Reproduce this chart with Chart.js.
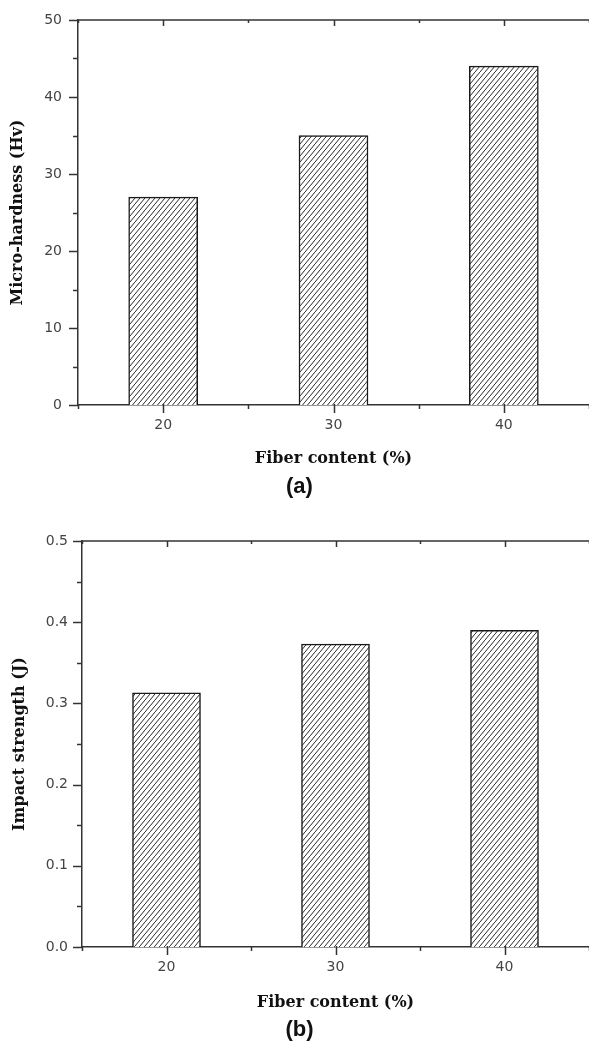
<!DOCTYPE html>
<html>
<head>
<meta charset="utf-8">
<script src="https://cdn.jsdelivr.net/npm/chart.js@4.4.1/dist/chart.umd.min.js"></script>
<style>
  html, body { margin: 0; padding: 0; background: #fff; }
  body { width: 589px; height: 1044px; position: relative; overflow: hidden; }
  canvas { position: absolute; left: 0; }
  #chart-a { top: 0; }
  #chart-b { top: 520px; }
  .panel { position: absolute; width: 589px; left: 5px; text-align: center;
           font: bold 22px "Liberation Sans", Arial, sans-serif; color: #111; }
</style>
</head>
<body>
<canvas id="chart-a" width="589" height="480"></canvas>
<canvas id="chart-b" width="589" height="500"></canvas>
<div class="panel" style="top:473px">(a)</div>
<div class="panel" style="top:1016px">(b)</div>
<script>
// data
const fiberContent = [20, 30, 40];
const microHardness = [27, 35, 44];
const impactStrength = [0.313, 0.373, 0.39];
const xLabelTicks = [20, 30, 40];

// diagonal hatch used for the bars
const makeHatch = () => {
  const w = 5, h = 6;
  const c = document.createElement('canvas');
  c.width = w; c.height = h;
  const g = c.getContext('2d');
  g.fillStyle = '#fff';
  g.fillRect(0, 0, w, h);
  g.strokeStyle = '#2a2a2a';
  g.lineWidth = 1;
  [-w, 0, w].forEach(dx => {
    g.beginPath();
    g.moveTo(dx, h + (dx / w) * -h);
    g.lineTo(dx + w, (dx / w) * -h);
    g.stroke();
  });
  return g.createPattern(c, 'repeat');
};

// axis frame: top line and major/minor tick marks
const frameTicks = isMajorY => ({
  id: 'frameTicks',
  afterDraw(chart) {
    const { ctx, chartArea: a, scales: { x, y } } = chart;
    ctx.save();
    ctx.strokeStyle = '#333';
    ctx.lineWidth = 1.5;
    ctx.beginPath();
    ctx.moveTo(a.left, a.top);
    ctx.lineTo(a.right, a.top);
    ctx.stroke();
    x.ticks.forEach(t => {
      const px = Math.round(x.getPixelForValue(t.value)) + 0.5;
      const major = t.value % 10 === 0;
      ctx.beginPath();
      ctx.moveTo(px, a.bottom - (major ? 1 : 0));
      ctx.lineTo(px, a.bottom + (major ? 8 : 4));
      ctx.moveTo(px, a.top);
      ctx.lineTo(px, a.top + (major ? 6 : 3));
      ctx.stroke();
    });
    y.ticks.forEach(t => {
      const py = Math.round(y.getPixelForValue(t.value)) + 0.5;
      const major = isMajorY(t.value);
      ctx.beginPath();
      ctx.moveTo(a.left - (major ? 9 : 5), py);
      ctx.lineTo(a.left, py);
      ctx.stroke();
    });
    ctx.restore();
  }
});

const noPad = s => {
  s.paddingTop = 0; s.paddingBottom = 0;
  s.paddingLeft = 0; s.paddingRight = 0;
};

const createChart = (canvasId, values, cfg) => {
  const el = document.getElementById(canvasId);
  const hatch = makeHatch();
  new Chart(el, {
    type: 'bar',
    data: {
      datasets: [{
        data: fiberContent.map((f, i) => ({ x: f, y: values[i] })),
        backgroundColor: hatch,
        borderColor: '#1a1a1a',
        borderWidth: 1.5,
        borderSkipped: 'start',
        barThickness: cfg.barWidth,
      }],
    },
    options: {
      responsive: false,
      animation: false,
      events: [],
      layout: { padding: { top: cfg.padTop, left: 0, right: 0, bottom: 0 } },
      plugins: {
        legend: { display: false },
        tooltip: { enabled: false },
      },
      scales: {
        x: {
          type: 'linear',
          offset: false,
          min: 15,
          max: 45,
          afterBuildTicks: s => { s.ticks = [15, 20, 25, 30, 35, 40, 45].map(v => ({ value: v })); },
          afterFit: s => { s.height = cfg.xHeight; noPad(s); },
          grid: { display: false, drawTicks: false },
          border: { display: true, color: '#333', width: 1.5 },
          ticks: {
            padding: 12,
            color: '#444',
            font: { family: 'DejaVu Sans', size: 14 },
            callback: v => xLabelTicks.includes(v) ? String(v) : '',
          },
          title: {
            display: true,
            text: 'Fiber content (%)',
            color: '#111',
            font: { family: 'DejaVu Serif', weight: 'bold', size: 16 },
            padding: { top: 0, bottom: cfg.xTitlePad },
          },
        },
        y: {
          min: cfg.yMin,
          max: cfg.yMax,
          afterBuildTicks: s => { s.ticks = cfg.yTicks.map(v => ({ value: v })); },
          afterFit: s => { s.width = cfg.yWidth; noPad(s); },
          grid: { display: false, drawTicks: false },
          border: { display: true, color: '#333', width: 1.5 },
          ticks: {
            padding: cfg.yPad,
            color: '#444',
            font: { family: 'DejaVu Sans', size: 14 },
            callback: v => cfg.isMajorY(v) ? cfg.fmt(v) : '',
          },
          title: {
            display: true,
            text: cfg.yTitle,
            color: '#111',
            font: { family: 'DejaVu Serif', weight: 'bold', size: 16 },
            padding: { top: cfg.yTitlePad, bottom: 0 },
          },
        },
      },
    },
    plugins: [frameTicks(cfg.isMajorY)],
  });
};

// (a) micro-hardness
createChart('chart-a', microHardness, {
  yMin: 0, yMax: 50,
  yTicks: [0, 5, 10, 15, 20, 25, 30, 35, 40, 45, 50],
  isMajorY: v => v % 10 === 0,
  fmt: v => String(v),
  yTitle: 'Micro-hardness (Hv)',
  padTop: 20, xHeight: 75, yWidth: 78, yPad: 16,
  xTitlePad: 12, yTitlePad: 8, barWidth: 69,
});

// (b) impact strength
createChart('chart-b', impactStrength, {
  yMin: 0, yMax: 0.5,
  yTicks: [0, 0.05, 0.1, 0.15, 0.2, 0.25, 0.3, 0.35, 0.4, 0.45, 0.5],
  isMajorY: v => Math.round(v * 100) % 10 === 0,
  fmt: v => v.toFixed(1),
  yTitle: 'Impact strength (J)',
  padTop: 21, xHeight: 73, yWidth: 82, yPad: 14,
  xTitlePad: 8, yTitlePad: 10, barWidth: 68,
});
</script>
</body>
</html>
